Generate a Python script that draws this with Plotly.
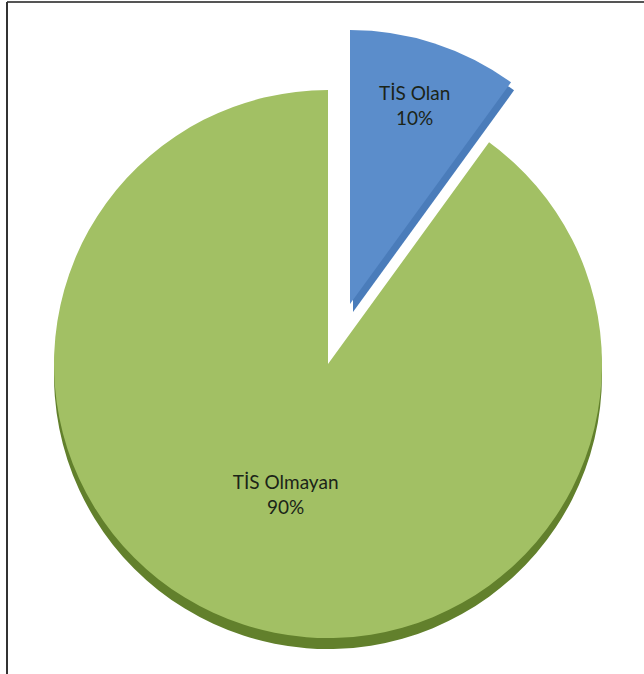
import plotly.graph_objects as go

labels = ["TİS Olan", "TİS Olmayan"]
values = [10, 90]
face_colors = ["#5b8dcb", "#a2c064"]
side_colors = ["#4a7cba", "#62802c"]

W, H = 644, 674
TRANSPARENT = "rgba(0,0,0,0)"


def dom(left, top, size):
    return dict(x=[left / W, (left + size) / W], y=[1 - (top + size) / H, 1 - top / H])


R = 548          # pie diameter in px
GREEN_POS = (54, 90)
BLUE_POS = (76, 30)
DEPTH = 11

fig = go.Figure()


def add(colors, texttemplates, pos):
    fig.add_trace(go.Pie(
        labels=labels,
        values=values,
        sort=False,
        direction="clockwise",
        rotation=0,
        marker=dict(colors=colors, line=dict(width=0)),
        texttemplate=texttemplates,
        textposition="inside",
        insidetextorientation="horizontal",
        textfont=dict(family="Lato, Open Sans, sans-serif", size=19, color="#1b2418"),
        hoverinfo="skip",
        showlegend=False,
        domain=dom(pos[0], pos[1], R),
    ))


# side (3D depth) layers
add([TRANSPARENT, side_colors[1]], ["", ""], (GREEN_POS[0], GREEN_POS[1] + DEPTH))
add([side_colors[0], TRANSPARENT], ["", ""], (BLUE_POS[0] + 3, BLUE_POS[1] + DEPTH - 3))
# top faces
add([TRANSPARENT, face_colors[1]], ["", "%{label}<br>%{percent}"], GREEN_POS)
add([face_colors[0], TRANSPARENT], ["%{label}<br>%{percent}", ""], BLUE_POS)

fig.update_layout(
    width=W,
    height=H,
    margin=dict(l=0, r=0, t=0, b=0),
    paper_bgcolor="white",
    plot_bgcolor="white",
    showlegend=False,
    shapes=[
        dict(type="line", xref="paper", yref="paper", x0=7 / W, x1=1, y0=1 - 2 / H, y1=1 - 2 / H,
             line=dict(color="#555555", width=2)),
        dict(type="line", xref="paper", yref="paper", x0=7 / W, x1=7 / W, y0=0, y1=1 - 2 / H,
             line=dict(color="#333333", width=2)),
    ],
)

fig.write_html("out.html")
